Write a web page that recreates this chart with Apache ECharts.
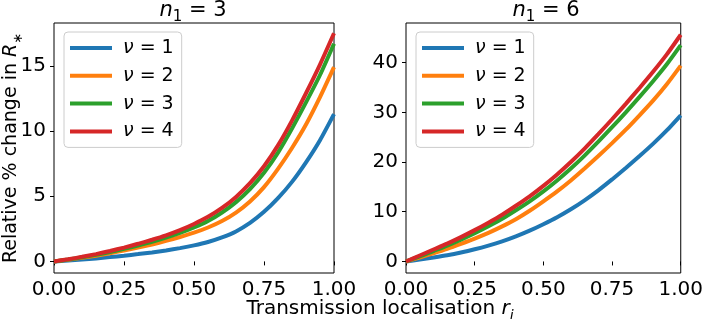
<!DOCTYPE html>
<html>
<head>
<meta charset="utf-8">
<script src="https://cdn.jsdelivr.net/npm/echarts@6/dist/echarts.min.js"></script>
<style>
  html, body { margin: 0; padding: 0; background: #fff; }
  #chart { width: 706px; height: 319px; }
</style>
</head>
<body>
<div id="chart"></div>
<script>
    // transmission localisation r_i
    var xs = [0, 0.05, 0.1, 0.15, 0.2, 0.25, 0.3, 0.35, 0.4, 0.45, 0.5,
        0.55, 0.6, 0.65, 0.7, 0.75, 0.8, 0.85, 0.9, 0.95, 1.0];

    // n1 = 3
    var left1 = [0, 0.06, 0.14, 0.23, 0.33, 0.44, 0.56, 0.69, 0.84, 1.02, 1.23,
        1.49, 1.84, 2.3, 2.95, 3.8, 4.85, 6.1, 7.6, 9.3, 11.3];
    var left2 = [0, 0.12, 0.27, 0.44, 0.63, 0.84, 1.06, 1.3, 1.57, 1.87, 2.2,
        2.6, 3.1, 3.75, 4.6, 5.7, 7.1, 8.7, 10.5, 12.6, 14.9];
    var left3 = [0, 0.14, 0.31, 0.5, 0.72, 0.96, 1.22, 1.5, 1.82, 2.18, 2.6,
        3.1, 3.75, 4.55, 5.55, 6.8, 8.35, 10.2, 12.2, 14.3, 16.7];
    var left4 = [0, 0.16, 0.35, 0.56, 0.8, 1.06, 1.35, 1.66, 2.0, 2.4, 2.87,
        3.42, 4.1, 4.95, 6.0, 7.3, 8.9, 10.8, 12.9, 15.1, 17.5];

    // n1 = 6
    var right1 = [0, 0.38, 0.8, 1.25, 1.8, 2.45, 3.2, 4.05, 5.05, 6.2, 7.5,
        8.9, 10.5, 12.3, 14.3, 16.5, 18.8, 21.2, 23.7, 26.4, 29.4];
    var right2 = [0, 0.8, 1.65, 2.55, 3.55, 4.6, 5.75, 7.05, 8.5, 10.2, 12.1,
        14.1, 16.3, 18.7, 21.2, 23.8, 26.5, 29.4, 32.4, 35.7, 39.4];
    var right3 = [0, 1.0, 2.1, 3.2, 4.4, 5.7, 7.1, 8.6, 10.3, 12.1, 14.1,
        16.3, 18.7, 21.3, 24.1, 27.0, 30.0, 33.1, 36.3, 39.7, 43.5];
    var right4 = [0, 1.2, 2.4, 3.6, 4.9, 6.3, 7.8, 9.4, 11.2, 13.1, 15.2,
        17.5, 20.0, 22.7, 25.6, 28.6, 31.7, 34.9, 38.2, 41.7, 45.6];

    var nuValues = [1, 2, 3, 4];
    var xTicks = [0, 0.25, 0.5, 0.75, 1];
    var leftYTicks = [0, 5, 10, 15];
    var rightYTicks = [0, 10, 20, 30, 40];

    var colors = ['#1f77b4', '#ff7f0e', '#2ca02c', '#d62728'];
    var font = 'DejaVu Sans';

    function pairs (ys) {
        return xs.map(function (x, i) { return [x, ys[i]]; });
    }

    function makeX (idx) {
        return {
            type: 'value', gridIndex: idx, min: 0, max: 1, interval: 0.25,
            axisLine: { show: false },
            axisTick: { length: 4, customValues: xTicks, lineStyle: { color: '#000' } },
            splitLine: { show: false },
            axisLabel: {
                margin: 7, color: '#000', fontSize: 20, fontFamily: font, customValues: xTicks,
                formatter: function (v) { return v.toFixed(2); }
            }
        };
    }

    function makeY (idx, min, max, ticks) {
        return {
            type: 'value', gridIndex: idx, min: min, max: max,
            axisLine: { show: false },
            axisTick: { show: true, length: 4, customValues: ticks, lineStyle: { color: '#000' } },
            splitLine: { show: false },
            axisLabel: { margin: 8, color: '#000', fontSize: 20, fontFamily: font, customValues: ticks }
        };
    }

    function makeLegend (left) {
        return {
            orient: 'vertical', left: left, top: 32,
            itemWidth: 42, itemHeight: 4, itemGap: 7.8, icon: 'rect',
            padding: [6, 8, 6, 6],
            backgroundColor: 'rgba(255,255,255,0.8)',
            borderColor: '#ccc', borderWidth: 1, borderRadius: 4,
            selectedMode: false,
            data: nuValues.map(function (v) { return 'ν = ' + v; }),
            formatter: function (name) { return '{i|ν}{t|' + name.slice(1) + '}'; },
            textStyle: {
                fontSize: 19, fontFamily: font, color: '#000', lineHeight: 20, padding: [0, 0, 0, 6],
                rich: {
                    i: { fontSize: 19, fontFamily: font, fontStyle: 'italic', color: '#000' },
                    t: { fontSize: 19, fontFamily: font, color: '#000' }
                }
            }
        };
    }

    var series = [];
    [left1, left2, left3, left4].forEach(function (ys, i) {
        series.push({
            name: 'ν = ' + nuValues[i], type: 'line', xAxisIndex: 0, yAxisIndex: 0,
            data: pairs(ys), smooth: 0.2, showSymbol: false,
            lineStyle: { width: 4, color: colors[i] }, itemStyle: { color: colors[i] }
        });
    });
    [right1, right2, right3, right4].forEach(function (ys, i) {
        series.push({
            name: 'ν = ' + nuValues[i], type: 'line', xAxisIndex: 1, yAxisIndex: 1,
            data: pairs(ys), smooth: 0.2, showSymbol: false,
            lineStyle: { width: 4, color: colors[i] }, itemStyle: { color: colors[i] }
        });
    });

    function richText (size) {
        return {
            i: { fontSize: size, fontFamily: font, fontStyle: 'italic', color: '#000', lineHeight: 22, verticalAlign: 'bottom' },
            s: { fontSize: Math.round(size * 0.7), fontFamily: font, color: '#000', lineHeight: 14, verticalAlign: 'bottom', padding: [0, 0, -4, 0] },
            si: { fontSize: Math.round(size * 0.7), fontFamily: font, fontStyle: 'italic', color: '#000', lineHeight: 14, verticalAlign: 'bottom', padding: [0, 0, -4, 0] },
            t: { fontSize: size, fontFamily: font, color: '#000', lineHeight: 22, verticalAlign: 'bottom' }
        };
    }

    var chart = echarts.init(document.getElementById('chart'), null, { renderer: 'canvas' });
    chart.setOption({
        animation: false,
        color: colors,
        grid: [
            { left: 54, right: 372, top: 23, bottom: 46, show: true, borderColor: '#000', borderWidth: 1 },
            { left: 406, right: 21, top: 23, bottom: 46, show: true, borderColor: '#000', borderWidth: 1 }
        ],
        xAxis: [makeX(0), makeX(1)],
        yAxis: [makeY(0, -0.89, 18.29, leftYTicks), makeY(1, -2.32, 47.96, rightYTicks)],
        legend: [makeLegend(64), makeLegend(416)],
        series: series,
        graphic: [
            {
                type: 'text', x: 193, y: 21,
                style: { text: '{i|n}{s|1}{t| = 3}', align: 'center', verticalAlign: 'bottom', rich: richText(21) }
            },
            {
                type: 'text', x: 546, y: 21,
                style: { text: '{i|n}{s|1}{t| = 6}', align: 'center', verticalAlign: 'bottom', rich: richText(21) }
            },
            {
                type: 'text', x: 380, y: 319,
                style: { text: '{t|Transmission localisation }{i|r}{si|i}', align: 'center', verticalAlign: 'bottom', rich: richText(20) }
            },
            {
                type: 'text', x: -1, y: 148, rotation: Math.PI / 2,
                style: { text: '{t|Relative % change in }{i|R}{s|∗}', align: 'center', verticalAlign: 'top', rich: richText(19) }
            }
        ]
    });
</script>
</body>
</html>
